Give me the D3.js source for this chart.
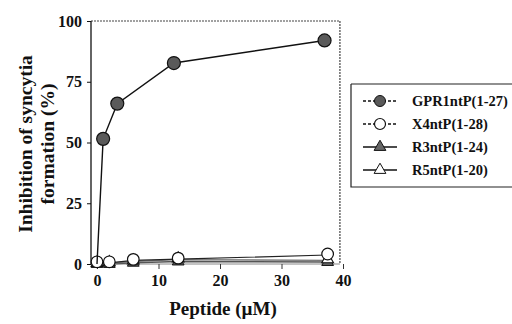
<!DOCTYPE html>
<html><head><meta charset="utf-8">
<script src="https://cdn.jsdelivr.net/npm/d3@7"></script>
<style>
body{margin:0;background:#fff;}
svg{display:block;}
</style></head><body>
<svg id="c" width="512" height="324"></svg>
<script>
const gprX = [0, 1, 3.3, 12.5, 37];
const gprY = [0, 51.5, 66, 82.7, 92];
const x4X = [0, 2, 5.9, 13.2, 37.5];
const x4Y = [0.5, 0.5, 1.5, 2, 3.7];
const r3X = [0, 2, 5.9, 13.2, 37.5];
const r3Y = [0, 0, 0.5, 1, 0.8];
const r5X = [0, 2, 5.9, 13.2, 37.5];
const r5Y = [0, 0.3, 1, 1.8, 1.5];
const xTicks = [0, 10, 20, 30, 40];
const yTicks = [0, 25, 50, 75, 100];
const seriesNames = ["GPR1ntP(1-27)", "X4ntP(1-28)", "R3ntP(1-24)", "R5ntP(1-20)"];

const FONT = "Liberation Serif";
const svg = d3.select("#c");
const x = d3.scaleLinear().domain([0, 40]).range([97, 343]);
const y = d3.scaleLinear().domain([0, 100]).range([264, 21]);
const axX = x(0) - 6, rightX = x(39.5);

svg.append("line").attr("x1", axX).attr("x2", rightX).attr("y1", y(100)).attr("y2", y(100))
  .attr("stroke", "#444").attr("stroke-width", 1.2).attr("stroke-dasharray", "2,1");
svg.append("line").attr("x1", rightX).attr("x2", rightX).attr("y1", y(100)).attr("y2", y(0))
  .attr("stroke", "#444").attr("stroke-width", 1.2).attr("stroke-dasharray", "2,1");

const ya = svg.append("g").attr("transform", `translate(${axX},0)`)
  .call(d3.axisLeft(y).tickValues(yTicks).tickSize(4).tickPadding(5).tickFormat(d3.format("d")));
ya.attr("font-family", FONT).attr("font-size", 16).attr("font-weight", "bold");
ya.select(".domain").attr("stroke", "#111").attr("stroke-width", 1.3).attr("d", `M0,${y(100)}V${y(0)}`);
ya.selectAll("text").attr("fill", "#111");
ya.selectAll(".tick line").attr("stroke", "#111");

const xa = svg.append("g").attr("transform", `translate(0,${y(0)})`)
  .call(d3.axisBottom(x).tickValues(xTicks).tickSize(5).tickPadding(6).tickFormat(d3.format("d")));
xa.attr("font-family", FONT).attr("font-size", 16).attr("font-weight", "bold");
xa.select(".domain").attr("stroke", "#888").attr("stroke-width", 1).attr("d", `M${axX},0H${rightX}`);
xa.selectAll(".tick line").attr("stroke", "#333");
xa.selectAll("text").attr("fill", "#111");

function title(t, tx, ty, rot, size) {
  return svg.append("text").attr("transform", `translate(${tx},${ty})` + (rot ? " rotate(-90)" : ""))
    .attr("text-anchor", "middle").attr("dominant-baseline", "central")
    .attr("font-family", FONT).attr("font-weight", "bold").attr("font-size", size).attr("fill", "#111").text(t);
}
title("Inhibition of syncytia", 25, 144, true, 19.5);
title("formation (%)", 47, 144, true, 19.5);
title("Peptide (\u00b5M)", 223, 308, false, 19);

const line = d3.line().x(d => x(d[0])).y(d => y(d[1]));
const tri = d3.symbol().type(d3.symbolTriangle).size(60);
function zip(a, b) { return a.map((v, i) => [v, b[i]]); }

svg.append("path").datum(zip(r3X, r3Y)).attr("d", line).attr("fill", "none").attr("stroke", "#555").attr("stroke-width", 1.4);
svg.append("path").datum(zip(r5X, r5Y)).attr("d", line).attr("fill", "none").attr("stroke", "#777").attr("stroke-width", 1.4);
svg.append("path").datum(zip(x4X, x4Y)).attr("d", line).attr("fill", "none").attr("stroke", "#222").attr("stroke-width", 1.2);

svg.selectAll(".r3").data(zip(r3X, r3Y)).enter().append("path")
  .attr("transform", d => `translate(${x(d[0])},${y(d[1])})`).attr("d", tri)
  .attr("fill", "#666").attr("stroke", "#111").attr("stroke-width", 1);
svg.selectAll(".r5").data(zip(r5X, r5Y)).enter().append("path")
  .attr("transform", d => `translate(${x(d[0])},${y(d[1]) - 1})`).attr("d", tri)
  .attr("fill", "#fff").attr("stroke", "#111").attr("stroke-width", 1.1);
svg.selectAll(".x4").data(zip(x4X, x4Y)).enter().append("circle")
  .attr("cx", d => x(d[0])).attr("cy", d => y(d[1]) - 1).attr("r", 5.8)
  .attr("fill", "#fff").attr("stroke", "#111").attr("stroke-width", 1.2);

svg.append("path").datum(zip(gprX, gprY)).attr("d", line).attr("fill", "none").attr("stroke", "#111").attr("stroke-width", 1.4);
svg.selectAll(".g").data(zip(gprX, gprY).slice(1)).enter().append("circle")
  .attr("cx", d => x(d[0])).attr("cy", d => y(d[1])).attr("r", 6.5)
  .attr("fill", "#5a5a5a").attr("stroke", "#111").attr("stroke-width", 1.2);

const lg = svg.append("g");
lg.append("path").attr("d", "M351,84H512M351,84V187H512").attr("fill", "none").attr("stroke", "#222").attr("stroke-width", 1.2);
const rowsY = [101, 124, 147, 170];
rowsY.forEach((ry, i) => {
  const g = lg.append("g").attr("transform", `translate(380,${ry})`);
  g.append("line").attr("x1", -17).attr("x2", 17).attr("stroke", "#111").attr("stroke-width", 1.3)
    .attr("stroke-dasharray", i < 2 ? "3,2" : null);
  if (i === 0) g.append("circle").attr("r", 5.5).attr("fill", "#5a5a5a").attr("stroke", "#111");
  if (i === 1) g.append("circle").attr("r", 5.5).attr("fill", "#fff").attr("stroke", "#111").attr("stroke-width", 1.2);
  if (i === 2) g.append("path").attr("d", tri).attr("fill", "#666").attr("stroke", "#111");
  if (i === 3) g.append("path").attr("d", tri).attr("fill", "#fff").attr("stroke", "#111");
  lg.append("text").attr("x", 412).attr("y", ry).attr("dominant-baseline", "central")
    .attr("font-family", FONT).attr("font-weight", "bold").attr("font-size", 14.5).attr("fill", "#111")
    .text(seriesNames[i]);
});
</script></body></html>
